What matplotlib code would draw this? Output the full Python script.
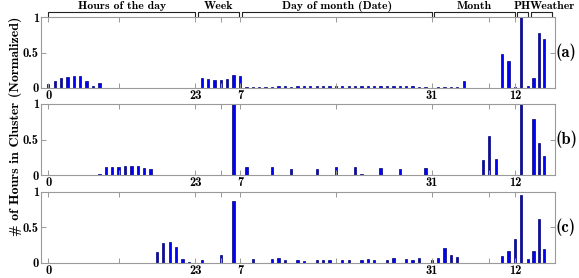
import numpy as np
import matplotlib
matplotlib.use("Agg")
import matplotlib.pyplot as plt
from matplotlib.transforms import blended_transform_factory

# ---------------- data ----------------
panel_labels = ["(a)", "(b)", "(c)"]

hours = {
    "a": [0.057, 0.10, 0.143, 0.152, 0.162, 0.162, 0.095, 0.033, 0.067, 0, 0, 0,
          0, 0, 0, 0, 0, 0, 0, 0, 0, 0, 0, 0],
    "b": [0, 0, 0, 0, 0, 0, 0, 0, 0.02, 0.11, 0.11, 0.11,
          0.12, 0.125, 0.12, 0.105, 0.09, 0, 0, 0, 0, 0, 0, 0],
    "c": [0, 0, 0, 0, 0, 0, 0, 0, 0, 0, 0, 0,
          0, 0, 0, 0, 0, 0.15, 0.27, 0.285, 0.22, 0.055, 0.01, 0],
}
week = {
    "a": [0.147, 0.133, 0.114, 0.114, 0.128, 0.18, 0.17],
    "b": [0, 0, 0, 0, 0, 1.0, 0],
    "c": [0.03, 0, 0, 0.10, 0, 0.87, 0],
}
days = {
    "a": [0.02, 0.02, 0.02, 0.02, 0.02, 0.025, 0.025, 0.02, 0.025, 0.025, 0.025,
          0.03, 0.03, 0.03, 0.03, 0.03, 0.025, 0.03, 0.025, 0.03, 0.025, 0.025,
          0.025, 0.03, 0.03, 0.025, 0.025, 0.02, 0.01, 0.005, 0.015],
    "b": [0.11, 0, 0, 0, 0.11, 0, 0, 0.085, 0, 0, 0, 0.09, 0, 0, 0.117, 0, 0,
          0.117, 0.02, 0, 0, 0.10, 0, 0, 0.085, 0, 0, 0, 0.10, 0, 0],
    "c": [0, 0.05, 0, 0, 0.05, 0.06, 0.04, 0, 0.04, 0.02, 0, 0.04, 0.04, 0.04,
          0, 0.04, 0.03, 0, 0.04, 0.045, 0.04, 0, 0.03, 0.07, 0, 0.045, 0.04,
          0.07, 0, 0.03, 0.07],
}
months = {
    "a": [0.015, 0.012, 0.008, 0.095, 0, 0, 0, 0, 0, 0.475, 0.38, 0.02],
    "b": [0, 0, 0, 0, 0, 0, 0.21, 0.55, 0.225, 0, 0, 0],
    "c": [0.20, 0.11, 0.08, 0, 0, 0, 0, 0, 0, 0.09, 0.165, 0.335],
}
ph = {
    "a": [1.0, 0.03],
    "b": [1.0, 0],
    "c": [0.95, 0.05],
}
weather = {
    "a": [0.147, 0.77, 0.69],
    "b": [0.79, 0.455, 0.27],
    "c": [0.165, 0.61, 0.19],
}

group_names = ["Hours of the day", "Week", "Day of month (Date)", "Month", "PH", "Weather"]
xtick_pos = [0, 11, 23, 27, 30, 45, 60, 69, 73]
xtick_lab = ["0", "", "23", "", "7", "", "31", "", "12"]
ytick_pos = [0, 0.5, 1]
ytick_lab = ["0", "0.5", "1"]
ylabel = "# of Hours in Cluster (Normalized)"

# ---------------- layout ----------------
FONT = ["cmb10", "DejaVu Serif"]
plt.rcParams["font.family"] = FONT
plt.rcParams["axes.unicode_minus"] = False

x_hours = np.arange(24)
x_week = 24 + np.arange(7)
x_days = 31 + np.arange(31)
x_months = 62 + np.arange(12)
x_ph = 74 + np.arange(2)
x_weather = 75.93 + 0.82 * np.arange(3)

W, H = 579, 278
fig = plt.figure(figsize=(W / 100, H / 100), dpi=100)

left_px, right_px = 41, 554.5
panels_px = [(17, 88), (104, 175), (191.5, 262.5)]
grey = "#9a9a9a"
barw = 0.36

axes = []
for key, (top, bot), plab in zip(["a", "b", "c"], panels_px, panel_labels):
    ax = fig.add_axes([left_px / W, 1 - bot / H, (right_px - left_px) / W, (bot - top) / H])
    for xs, vals in [(x_hours, hours[key]), (x_week, week[key]), (x_days, days[key]),
                     (x_months, months[key]), (x_ph, ph[key]), (x_weather, weather[key])]:
        ax.bar(xs, vals, width=barw, color="#0000ff", edgecolor="#00006e", linewidth=0.5)
    ax.set_xlim(-1.14, 79.2)
    ax.set_ylim(0, 1)
    ax.set_xticks(xtick_pos)
    ax.set_xticklabels(xtick_lab)
    ax.set_yticks(ytick_pos)
    ax.set_yticklabels(ytick_lab)
    ax.tick_params(axis="both", direction="in", length=3.5, width=0.7, color=grey,
                   top=True, right=True, labelsize=9, pad=1.5)
    for sp in ax.spines.values():
        sp.set_color(grey)
        sp.set_linewidth(0.8)
    ax.text(1.002, 0.5, plab, transform=ax.transAxes, ha="left", va="center", fontsize=12)
    axes.append(ax)

# group brackets above top panel
ax0 = axes[0]
tr = blended_transform_factory(ax0.transData, ax0.transAxes)
brackets = [(0, 23), (23.35, 29.8), (30.3, 60), (60.4, 72.95), (73.35, 75.0), (75.5, 78.85)]
y_line, y_tick = 1.065, 1.02
for i, ((x0, x1), name) in enumerate(zip(brackets, group_names)):
    ax0.plot([x0, x0, x1, x1], [y_tick, y_line, y_line, y_tick], color="#222222",
             lw=0.8, transform=tr, clip_on=False)
    if name == "Weather":
        ax0.text(x0 - 0.1, 1.115, name, transform=tr, ha="left", va="baseline", fontsize=8.5)
    else:
        ax0.text((x0 + x1) / 2, 1.115, name, transform=tr, ha="center", va="baseline",
                 fontsize=8.5)

fig.text(0.027, 0.545, ylabel, rotation=90, ha="center", va="center", fontsize=10)

fig.savefig("out.png", dpi=100)
